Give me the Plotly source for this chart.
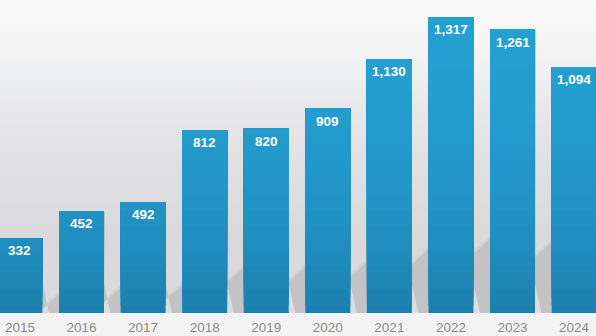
import plotly.graph_objects as go

# Annual totals
years = ["2015", "2016", "2017", "2018", "2019", "2020", "2021", "2022", "2023", "2024"]
totals = [332, 452, 492, 812, 820, 909, 1130, 1317, 1261, 1094]

Y_MAX = 1392.5
X_RANGE = [-0.324, 9.356]
BAR_W = 0.731

# vertical colour ramp for the bars (value -> colour)
bar_ramp = [(0, (28, 127, 173)), (236, (31, 139, 187)), (503, (33, 148, 197)),
            (858, (34, 157, 206)), (1317, (35, 161, 210)), (Y_MAX, (35, 162, 211))]
# background ramp, bottom (0) to top (1)
bg_scale = [[0.0, "#dedee0"], [0.04, "#dbdbdd"], [0.23, "#d9d9db"], [0.52, "#e2e2e4"],
            [0.68, "#e9e9eb"], [0.75, "#eeeff0"], [0.87, "#f5f5f5"], [1.0, "#fafafa"]]


def ramp_color(v):
    for (v0, c0), (v1, c1) in zip(bar_ramp, bar_ramp[1:]):
        if v <= v1:
            t = (v - v0) / (v1 - v0)
            return "rgb(%d,%d,%d)" % tuple(round(a + (b - a) * t) for a, b in zip(c0, c1))
    return "rgb(%d,%d,%d)" % bar_ramp[-1][1]


xs = list(range(len(years)))
fig = go.Figure()

# wall background (primary axes, drawn underneath)
fig.add_trace(go.Scatter(
    x=[X_RANGE[0], X_RANGE[1], X_RANGE[1], X_RANGE[0], X_RANGE[0]],
    y=[0, 0, Y_MAX, Y_MAX, 0], mode="none", fill="toself",
    fillgradient=dict(type="vertical", colorscale=bg_scale, start=0, stop=Y_MAX),
    hoverinfo="skip", showlegend=False))

# soft floor shadows cast by each bar into the gap on its right
px = Y_MAX / 313.0  # data units per pixel
for i in range(len(totals) - 1):
    xl = xs[i] + BAR_W / 2
    xr = xs[i + 1] - BAR_W / 2
    top = 0.25 * totals[i]
    for grow, col in ((3, "#d2d2d4"), (0, "#c3c3c5")):
        fig.add_trace(go.Scatter(
            x=[xl, xr, xr, xl + 0.4 * (xr - xl), xl, xl],
            y=[top - 15 * px + grow * px, top + grow * px, 0, 0, 30 * px, top - 15 * px + grow * px],
            mode="none", fill="toself", fillcolor=col,
            hoverinfo="skip", showlegend=False))

# bars on overlaid axes, layered from the dark bottom colour to the light top colour
n_bands = 40
for k in range(n_bands):
    lo = Y_MAX * k / n_bands
    fig.add_trace(go.Bar(
        x=xs, y=[max(v - lo, 0) for v in totals], base=lo, width=BAR_W,
        xaxis="x2", yaxis="y2",
        marker=dict(color=ramp_color(lo + Y_MAX / n_bands / 2), line=dict(width=0)),
        hoverinfo="skip", showlegend=False))

# value labels inside the bar tops
for x, v in zip(xs, totals):
    fig.add_annotation(x=x, y=v, xref="x2", yref="y2", yshift=-12.5, text=f"{v:,}",
                       showarrow=False,
                       font=dict(family="Arial, Liberation Sans", size=13.5, color="white", weight="bold"))

fig.update_layout(
    width=596, height=336, barmode="overlay",
    margin=dict(l=0, r=0, t=0, b=23),
    paper_bgcolor="#f3f3f3", plot_bgcolor="rgba(0,0,0,0)",
    hovermode=False,
    xaxis=dict(range=X_RANGE, tickvals=xs, ticktext=years, showgrid=False, zeroline=False,
               showline=False, ticks="", fixedrange=True, ticklabelstandoff=4,
               tickfont=dict(family="Arial, Liberation Sans", size=13.5, color="#8a8a8a")),
    yaxis=dict(range=[0, Y_MAX], visible=False, showgrid=False, zeroline=False, fixedrange=True),
    xaxis2=dict(range=X_RANGE, overlaying="x", visible=False, fixedrange=True),
    yaxis2=dict(range=[0, Y_MAX], overlaying="y", visible=False, fixedrange=True),
)

fig.write_html("out.html", config={"displayModeBar": False})
